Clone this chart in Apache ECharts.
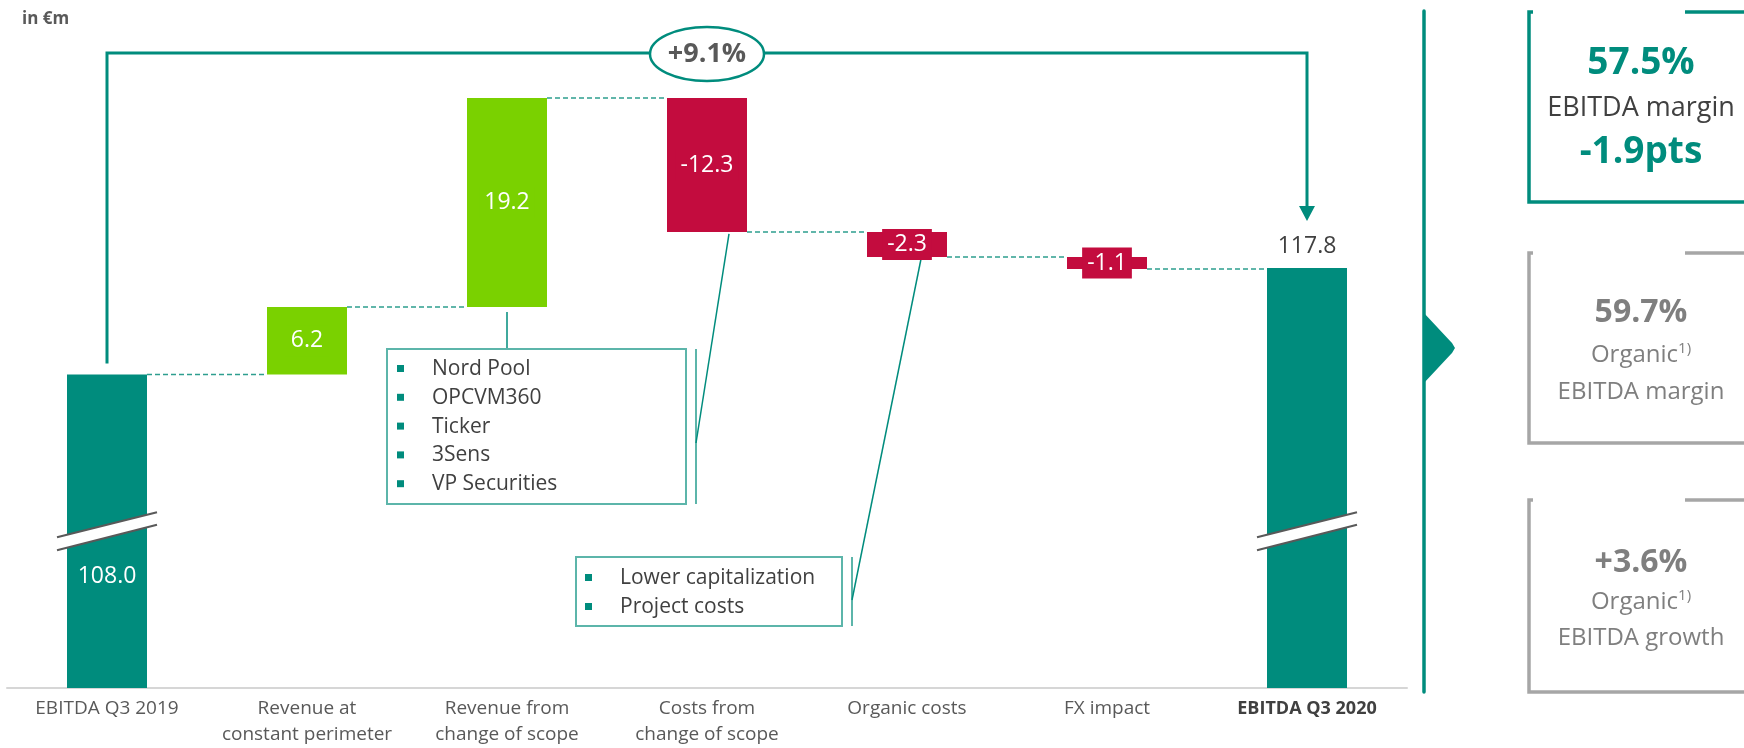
<!DOCTYPE html>
<html><head><meta charset="utf-8">
<script src="https://cdn.jsdelivr.net/npm/echarts@6/dist/echarts.min.js"></script>
<style>html,body{margin:0;padding:0;background:#fff}#c{width:1744px;height:748px}</style>
</head><body><div id="c"></div>
<script>
// ---------------- data ----------------
const categories = ['EBITDA Q3 2019', 'Revenue at\nconstant perimeter', 'Revenue from\nchange of scope', 'Costs from\nchange of scope', 'Organic costs', 'FX impact', 'EBITDA Q3 2020'];
const values = [108.0, 6.2, 19.2, -12.3, -2.3, -1.1, 117.8];
const isTotal = [true, false, false, false, false, false, true];
const valueLabels = ['108.0', '6.2', '19.2', '-12.3', '-2.3', '-1.1', '117.8'];
const growthLabel = '+9.1%';
const unitLabel = 'in €m';
const scopeItems = ['Nord Pool', 'OPCVM360', 'Ticker', '3Sens', 'VP Securities'];
const costItems = ['Lower capitalization', 'Project costs'];
const kpiBig = ['57.5%', '59.7%', '+3.6%'];
const kpiSub = ['-1.9pts', '', ''];
const kpiLines = [['EBITDA margin'], ['Organic{s|1)}', 'EBITDA margin'], ['Organic{s|1)}', 'EBITDA growth']];
const AXIS_MIN = 79.2, AXIS_MAX = 139.2, BREAK_AT = 93.6;

// ---------------- styles ----------------
const TEAL = '#008C7D', GREEN = '#7AD100', RED = '#C30C3E';
const DASH = '#2E9E8F', BOX = '#5CB5AA', GREYBOX = '#A6A6A6';
const FONT = '"Open Sans", "Noto Sans", sans-serif';

// build waterfall rows: [index, low, high, value, runningEnd]
let run = 0;
const rows = values.map((v, i) => {
  let low, high, end;
  if (isTotal[i]) { low = AXIS_MIN; high = v; end = v; }
  else { low = Math.min(run, run + v); high = Math.max(run, run + v); end = run + v; }
  run = end;
  return [i, low, high, v, end];
});

function renderItem(params, api) {
  const i = api.value(0), low = api.value(1), high = api.value(2), v = api.value(3), end = api.value(4);
  const top = api.coord([i, high]), bot = api.coord([i, low]);
  const w = api.size([1, 0])[0] * 0.4;
  const cx = top[0];
  const color = isTotal[i] ? TEAL : (v >= 0 ? GREEN : RED);
  const ch = [];
  ch.push({ type: 'rect', shape: { x: cx - w / 2, y: top[1], width: w, height: bot[1] - top[1] }, style: { fill: color } });
  if (i < rows.length - 1) {
    const y = api.coord([i, end])[1];
    const nx = api.coord([i + 1, end])[0];
    ch.push({ type: 'line', shape: { x1: cx + w / 2, y1: y, x2: nx - w / 2, y2: y }, style: { stroke: DASH, lineWidth: 1.5, lineDash: [5, 3] } });
  }
  if (isTotal[i]) {
    const yc = api.coord([i, BREAK_AT])[1];
    ch.push({ type: 'polygon', shape: { points: [[cx - 50, yc + 6], [cx + 50, yc - 19], [cx + 50, yc - 6.5], [cx - 50, yc + 19]] }, style: { fill: '#fff' } });
    ch.push({ type: 'line', shape: { x1: cx - 50, y1: yc + 6, x2: cx + 50, y2: yc - 19 }, style: { stroke: '#595959', lineWidth: 2 } });
    ch.push({ type: 'line', shape: { x1: cx - 50, y1: yc + 19, x2: cx + 50, y2: yc - 6.5 }, style: { stroke: '#595959', lineWidth: 2 } });
    if (i === rows.length - 1) {
      ch.push({ type: 'text', style: { text: valueLabels[i], x: cx, y: top[1] - 21, align: 'center', verticalAlign: 'middle', fill: '#404040', font: '23px ' + FONT } });
    } else {
      ch.push({ type: 'text', style: { text: valueLabels[i], x: cx, y: yc + 45, align: 'center', verticalAlign: 'middle', fill: '#fff', font: '23px ' + FONT } });
    }
  } else {
    ch.push({ type: 'text', style: { text: valueLabels[i], x: cx, y: (top[1] + bot[1]) / 2, align: 'center', verticalAlign: 'middle', fill: '#fff', font: '23px ' + FONT, lineHeight: 27, backgroundColor: color, padding: [2, 5] } });
  }
  return { type: 'group', children: ch };
}

const chart = echarts.init(document.getElementById('c'));
chart.setOption({
  animation: false,
  grid: { left: 7, right: 337, top: 35, bottom: 57 },
  xAxis: {
    type: 'category', data: categories,
    axisLine: { lineStyle: { color: '#D6D6D6', width: 2 } },
    axisTick: { show: false },
    axisLabel: {
      interval: 0, margin: 8, color: '#595959', fontFamily: FONT, fontSize: 19, lineHeight: 26,
      formatter: (val, idx) => idx === categories.length - 1 ? '{b|' + val + '}' : val,
      rich: { b: { fontWeight: 'bold', color: '#404040', fontFamily: FONT, fontSize: 18, lineHeight: 26 } }
    }
  },
  yAxis: { type: 'value', min: AXIS_MIN, max: AXIS_MAX, show: false },
  series: [{ type: 'custom', renderItem: renderItem, data: rows, encode: { x: 0, y: [1, 2] }, clip: true }]
});

// ---------------- annotations ----------------
const px = (i, v) => chart.convertToPixel({ xAxisIndex: 0, yAxisIndex: 0 }, [i, v]);
const g = [];
const T = (text, x, y, font, fill, extra) => Object.assign({ type: 'text', style: Object.assign({ text, x, y, font, fill, align: 'center', verticalAlign: 'middle' }, extra || {}) }, {});

g.push({ type: 'text', style: { text: unitLabel, x: 22, y: 19, font: 'bold 17px ' + FONT, fill: '#595959', verticalAlign: 'middle' } });

// growth bracket
const pA = px(0, rows[0][2]), pB = px(rows.length - 1, rows[rows.length - 1][2]);
const by = 53, ecx = (pA[0] + pB[0]) / 2;
g.push({ type: 'polyline', shape: { points: [[pA[0], pA[1] - 11], [pA[0], by], [ecx - 57, by]] }, style: { stroke: TEAL, lineWidth: 3, fill: null } });
g.push({ type: 'polyline', shape: { points: [[ecx + 57, by], [pB[0], by], [pB[0], pB[1] - 60]] }, style: { stroke: TEAL, lineWidth: 3, fill: null } });
g.push({ type: 'polygon', shape: { points: [[pB[0] - 8, pB[1] - 62], [pB[0] + 8, pB[1] - 62], [pB[0], pB[1] - 47]] }, style: { fill: TEAL } });
g.push({ type: 'ellipse', shape: { cx: ecx, cy: by + 1, rx: 57, ry: 27 }, style: { fill: '#fff', stroke: TEAL, lineWidth: 2.5 } });
g.push(T(growthLabel, ecx, by + 1, 'bold 27px ' + FONT, '#595959'));

// callout 1 (scope)
const b3 = px(2, rows[2][1]);
g.push({ type: 'line', shape: { x1: b3[0], y1: b3[1] + 5, x2: b3[0], y2: 349 }, style: { stroke: TEAL, lineWidth: 1.5 } });
g.push({ type: 'rect', shape: { x: 387, y: 349, width: 299, height: 155 }, style: { fill: 'none', stroke: BOX, lineWidth: 2 } });
scopeItems.forEach((s, k) => {
  const y = 369 + k * 28.8;
  g.push({ type: 'rect', shape: { x: 397, y: y - 4, width: 7, height: 7 }, style: { fill: TEAL } });
  g.push({ type: 'text', style: { text: s, x: 432, y: y, font: '21px ' + FONT, fill: '#404040', verticalAlign: 'middle' } });
});
const b4 = px(3, rows[3][1]);
g.push({ type: 'line', shape: { x1: 696, y1: 349, x2: 696, y2: 504 }, style: { stroke: BOX, lineWidth: 2 } });
g.push({ type: 'line', shape: { x1: b4[0] + 22, y1: b4[1] + 2, x2: 696, y2: 443 }, style: { stroke: TEAL, lineWidth: 1.5 } });

// callout 2 (organic costs)
g.push({ type: 'rect', shape: { x: 576, y: 557, width: 266, height: 69 }, style: { fill: 'none', stroke: BOX, lineWidth: 2 } });
costItems.forEach((s, k) => {
  const y = 578 + k * 29;
  g.push({ type: 'rect', shape: { x: 585, y: y - 4, width: 7, height: 7 }, style: { fill: TEAL } });
  g.push({ type: 'text', style: { text: s, x: 620, y: y, font: '21px ' + FONT, fill: '#404040', verticalAlign: 'middle' } });
});
const b5 = px(4, rows[4][1]);
g.push({ type: 'line', shape: { x1: 852, y1: 557, x2: 852, y2: 626 }, style: { stroke: BOX, lineWidth: 2 } });
g.push({ type: 'line', shape: { x1: b5[0] + 14, y1: b5[1] + 2, x2: 852, y2: 600 }, style: { stroke: TEAL, lineWidth: 1.5 } });

// right panel divider with arrow
g.push({ type: 'line', shape: { x1: 1424, y1: 11, x2: 1424, y2: 692 }, style: { stroke: TEAL, lineWidth: 3.5, lineCap: 'round' } });
g.push({ type: 'polygon', shape: { points: [[1423, 312], [1452, 343], [1455, 348], [1452, 353], [1423, 384]] }, style: { fill: TEAL } });

// KPI boxes
const boxes = [
  { top: 12, bottom: 202, color: TEAL, txt: TEAL, ys: [63, 108, 152], big: 'bold 37px ', sub: '27px ', subCol: '#404040' },
  { top: 253, bottom: 443, color: GREYBOX, txt: '#7F7F7F', ys: [313, 355, 392], big: 'bold 32px ', sub: '24px ', subCol: '#7F7F7F' },
  { top: 500, bottom: 692, color: GREYBOX, txt: '#7F7F7F', ys: [563, 602, 638], big: 'bold 32px ', sub: '24px ', subCol: '#7F7F7F' }
];
boxes.forEach((b, k) => {
  g.push({ type: 'polyline', shape: { points: [[1533, b.top], [1529, b.top], [1529, b.bottom], [1746, b.bottom]] }, style: { stroke: b.color, lineWidth: 3.5, fill: null } });
  g.push({ type: 'line', shape: { x1: 1685, y1: b.top, x2: 1746, y2: b.top }, style: { stroke: b.color, lineWidth: 3.5 } });
  const cx = 1641;
  g.push(T(kpiBig[k], cx, b.ys[0], b.big + FONT, b.txt));
  kpiLines[k].forEach((ln, j) => {
    g.push({ type: 'text', style: { text: ln, x: cx, y: b.ys[1 + j], font: b.sub + FONT, fill: b.subCol, align: 'center', verticalAlign: 'middle',
      rich: { s: { fontSize: 15, fontFamily: FONT, fill: b.subCol, padding: [0, 0, 12, 0] } } } });
  });
  if (kpiSub[k]) g.push(T(kpiSub[k], cx, b.ys[2], b.big + FONT, b.txt));
});

chart.setOption({ graphic: { elements: g } });
</script>
</body></html>
